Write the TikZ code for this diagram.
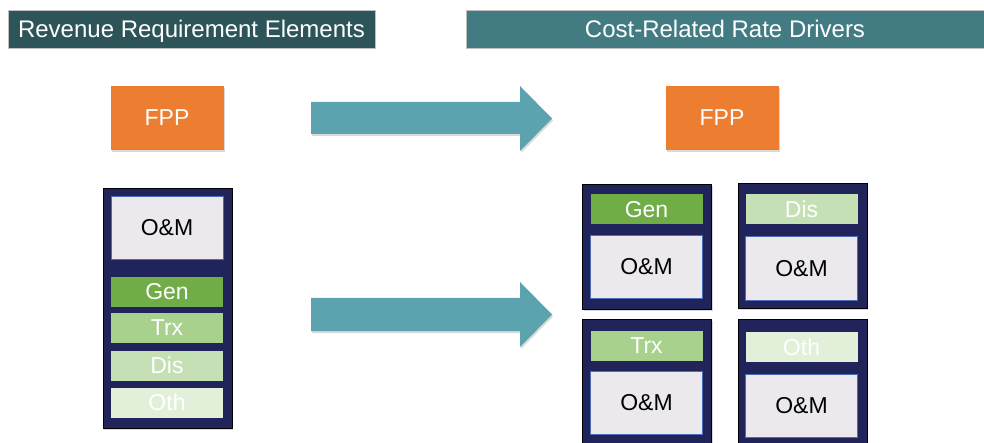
\documentclass[tikz,border=0pt]{standalone}
\usepackage{fontspec}
\setmainfont{Liberation Sans}
\usepackage{tikz}
\usetikzlibrary{shadows}
\definecolor{titleA}{HTML}{2C5459}
\definecolor{titleB}{HTML}{437B83}
\definecolor{fppor}{HTML}{ED7D31}
\definecolor{arrowteal}{HTML}{5BA3AE}
\definecolor{navy}{HTML}{20245A}
\definecolor{omfill}{HTML}{EBE9EE}
\definecolor{omline}{HTML}{4A6DB8}
\definecolor{genc}{HTML}{70AD47}
\definecolor{trxc}{HTML}{A9D18E}
\definecolor{disc}{HTML}{C5E0B4}
\definecolor{othc}{HTML}{E2F0D9}

\begin{document}
\begin{tikzpicture}[x=1pt,y=-1pt,
  title/.style={fill=#1,draw=black!25,line width=0.5pt,text=white,inner sep=0pt,minimum height=38pt,text height=17pt,text depth=0pt,font=\fontsize{24}{24}\selectfont},
  fpp/.style={fill=fppor,text=white,inner sep=0pt,minimum width=113pt,minimum height=64pt,font=\fontsize{23}{23}\selectfont,drop shadow={opacity=0.3,shadow xshift=1pt,shadow yshift=-2pt}},
  frame/.style={fill=navy,draw=black,line width=0.8pt,inner sep=0pt,minimum width=129pt,drop shadow={opacity=0.3,shadow xshift=1pt,shadow yshift=-2pt}},
  om/.style={fill=omfill,draw=omline,line width=1pt,inner sep=0pt,minimum width=112pt,minimum height=63pt,font=\fontsize{23}{23}\selectfont},
  part/.style={fill=#1,text=white,inner sep=0pt,minimum width=112pt,minimum height=30pt,font=\fontsize{23}{23}\selectfont},
  bigarrow/.style={fill=arrowteal,drop shadow={opacity=0.3,shadow xshift=1pt,shadow yshift=-2pt}}]
\useasboundingbox (0,0) rectangle (984,443);
% headings
\node[title=titleA,minimum width=367pt] (hleft) at (191.5,29) {Revenue Requirement Elements};
\node[title=titleB,minimum width=518pt] (hright) at (725,29) {Cost-Related Rate Drivers};
% left side: one stack
\node[fpp] (fppL) at (167,118) {FPP};
\node[frame,minimum height=240pt] (stackL) at (167.5,308) {};
\node[om] (omL) at (167,228) {O\&M};
\node[part=genc] (genL) at (167,292) {Gen};
\node[part=trxc] (trxL) at (167,328) {Trx};
\node[part=disc] (disL) at (167,365.5) {Dis};
\node[part=othc] (othL) at (167,402.5) {Oth};
% block arrows
\fill[bigarrow] (311,102) -- (520,102) -- (520,86) -- (552,118.5) -- (520,151) -- (520,134) -- (311,134) -- cycle;
\fill[bigarrow] (311,298) -- (520,298) -- (520,282) -- (552,314.5) -- (520,347) -- (520,331) -- (311,331) -- cycle;
% right side: four drivers
\node[fpp] (fppR) at (722,118) {FPP};
\node[frame,minimum height=125pt] (genbox) at (647,246.5) {};
\node[part=genc] (genR) at (646.5,209.5) {Gen};
\node[om] (omgen) at (646.5,267) {O\&M};
\node[frame,minimum height=125pt] (disbox) at (802.5,245.5) {};
\node[part=disc] (disR) at (801.5,209) {Dis};
\node[om] (omdis) at (801.5,268.5) {O\&M};
\node[frame,minimum height=125pt] (trxbox) at (647,381.5) {};
\node[part=trxc] (trxR) at (646.5,345.5) {Trx};
\node[om] (omtrx) at (646.5,403) {O\&M};
\node[frame,minimum height=125pt] (othbox) at (802.5,381.5) {};
\node[part=othc] (othR) at (801.5,347) {Oth};
\node[om] (omoth) at (801.5,405.5) {O\&M};
\end{tikzpicture}
\end{document}
